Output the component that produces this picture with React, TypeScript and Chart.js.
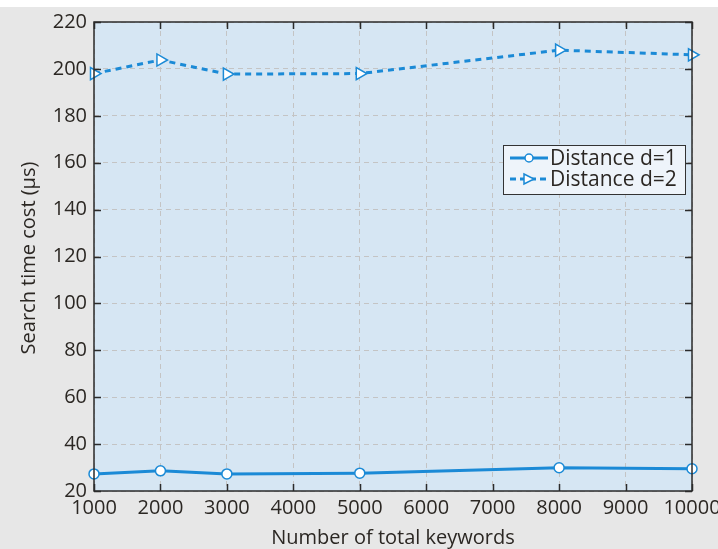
import React, { useEffect, useRef } from "react";
import { Chart, registerables } from "chart.js";
Chart.register(...registerables);

const xValues = [1000, 2000, 3000, 5000, 8000, 10000];
const d1Values = [27.3, 28.6, 27.3, 27.6, 29.9, 29.5];
const d2Values = [198, 203.8, 197.8, 198, 208, 206];
const xTicks = [1000, 2000, 3000, 4000, 5000, 6000, 7000, 8000, 9000, 10000];
const yTicks = [20, 40, 60, 80, 100, 120, 140, 160, 180, 200, 220];
const seriesNames = ["Distance d=1", "Distance d=2"];

const BLUE = "#1b8ad6";
const TEXT = "#2b2723";
const FONT = "'Open Sans', 'Noto Sans', sans-serif";

const decor = {
  id: "decor",
  beforeDraw(chart: any) {
    const { ctx, width, height, chartArea: a } = chart;
    ctx.save();
    ctx.fillStyle = "#ffffff";
    ctx.fillRect(0, 0, width, height);
    ctx.fillStyle = "#e7e7e7";
    ctx.fillRect(0, 7, width, height - 7);
    ctx.fillStyle = "#d6e6f3";
    ctx.fillRect(a.left, a.top, a.right - a.left, a.bottom - a.top);
    ctx.restore();
  },
  afterDraw(chart: any) {
    const { ctx, chartArea: a, scales } = chart;
    const xs = scales.x, ys = scales.y;
    ctx.save();
    // frame
    ctx.strokeStyle = "#2b2b2b";
    ctx.lineWidth = 1.5;
    ctx.strokeRect(a.left, a.top, a.right - a.left, a.bottom - a.top);
    // inward ticks
    const tl = 7;
    ctx.beginPath();
    xTicks.forEach((v) => {
      const px = Math.round(xs.getPixelForValue(v)) + 0.5;
      ctx.moveTo(px, a.bottom); ctx.lineTo(px, a.bottom - tl);
      ctx.moveTo(px, a.top); ctx.lineTo(px, a.top + tl);
    });
    yTicks.forEach((v) => {
      const py = Math.round(ys.getPixelForValue(v)) + 0.5;
      ctx.moveTo(a.left, py); ctx.lineTo(a.left + tl, py);
      ctx.moveTo(a.right, py); ctx.lineTo(a.right - tl, py);
    });
    ctx.stroke();
    // tick labels
    ctx.fillStyle = TEXT;
    ctx.font = `20px ${FONT}`;
    ctx.textAlign = "center";
    ctx.textBaseline = "middle";
    xTicks.forEach((v) => {
      ctx.fillText(String(v), xs.getPixelForValue(v), a.bottom + 17);
    });
    ctx.textAlign = "right";
    yTicks.forEach((v) => {
      ctx.fillText(String(v), a.left - 7, ys.getPixelForValue(v));
    });
    // axis titles
    ctx.textAlign = "center";
    ctx.fillText("Number of total keywords", (a.left + a.right) / 2 , 538);
    ctx.save();
    ctx.translate(29, 258);
    ctx.rotate(-Math.PI / 2);
    ctx.fillText("Search time cost (\u03bcs)", 0, 0);
    ctx.restore();
    // legend
    const lx = 503, ly = 145, lw = 182, lh = 49;
    ctx.fillStyle = "#eef4fa";
    ctx.fillRect(lx, ly, lw, lh);
    ctx.strokeStyle = "#333";
    ctx.lineWidth = 1;
    ctx.strokeRect(lx + 0.5, ly + 0.5, lw, lh);
    const rows = [ly + 13, ly + 34];
    // row 1
    ctx.strokeStyle = BLUE;
    ctx.lineWidth = 3;
    ctx.setLineDash([]);
    ctx.beginPath(); ctx.moveTo(lx + 7, rows[0]); ctx.lineTo(lx + 45, rows[0]); ctx.stroke();
    ctx.lineWidth = 1.5;
    ctx.fillStyle = "#ffffff";
    ctx.beginPath(); ctx.arc(lx + 26, rows[0], 4, 0, Math.PI * 2); ctx.fill(); ctx.stroke();
    // row 2
    ctx.lineWidth = 3;
    ctx.setLineDash([6, 4]);
    ctx.beginPath(); ctx.moveTo(lx + 7, rows[1]); ctx.lineTo(lx + 45, rows[1]); ctx.stroke();
    ctx.setLineDash([]);
    ctx.lineWidth = 1.5;
    ctx.beginPath();
    ctx.moveTo(lx + 21, rows[1] - 5); ctx.lineTo(lx + 31, rows[1]); ctx.lineTo(lx + 21, rows[1] + 5); ctx.closePath();
    ctx.fill(); ctx.stroke();
    ctx.fillStyle = TEXT;
    ctx.textAlign = "left";
    ctx.font = `21px ${FONT}`;
    ctx.fillText(seriesNames[0], lx + 47, rows[0] + 1);
    ctx.fillText(seriesNames[1], lx + 47, rows[1] + 1);
    ctx.restore();
  },
};

export default function App() {
  const ref = useRef<HTMLCanvasElement>(null);
  useEffect(() => {
    const chart = new Chart(ref.current!, {
      type: "line",
      data: {
        datasets: [
          {
            label: seriesNames[0],
            data: xValues.map((x, i) => ({ x, y: d1Values[i] })),
            borderColor: BLUE,
            borderWidth: 3,
            pointRadius: 5,
            pointBorderWidth: 1.5,
            pointBackgroundColor: "#ffffff",
            pointBorderColor: BLUE,
            pointStyle: "circle",
            clip: false,
          },
          {
            label: seriesNames[1],
            data: xValues.map((x, i) => ({ x, y: d2Values[i] })),
            borderColor: BLUE,
            borderWidth: 3,
            borderDash: [6, 5],
            pointRadius: 7,
            pointBorderWidth: 1.5,
            pointBackgroundColor: "#ffffff",
            pointBorderColor: BLUE,
            pointStyle: "triangle",
            pointRotation: 90,
            clip: false,
          },
        ],
      },
      options: {
        animation: false,
        responsive: false,
        events: [],
        layout: { padding: { left: 94, top: 22, right: 26, bottom: 58 } },
        plugins: { legend: { display: false }, tooltip: { enabled: false } },
        scales: {
          x: {
            type: "linear",
            min: 1000,
            max: 10000,
            afterBuildTicks: (s: any) => { s.ticks = xTicks.map((v) => ({ value: v })); },
            ticks: { display: false },
            border: { display: false, dash: [5, 4] },
            grid: { drawTicks: false, color: "#c4c4c4", lineWidth: 1, tickLength: 0 },
          },
          y: {
            min: 20,
            max: 220,
            afterBuildTicks: (s: any) => { s.ticks = yTicks.map((v) => ({ value: v })); },
            ticks: { display: false },
            border: { display: false, dash: [5, 4] },
            grid: { drawTicks: false, color: "#c4c4c4", lineWidth: 1, tickLength: 0 },
          },
        },
      } as any,
      plugins: [decor],
    });
    return () => chart.destroy();
  }, []);
  return (
    <div style={{ position: "fixed", left: 0, top: 0, width: 718, height: 549 }}>
      <canvas ref={ref} width={718} height={549} style={{ width: 718, height: 549 }} />
    </div>
  );
}
